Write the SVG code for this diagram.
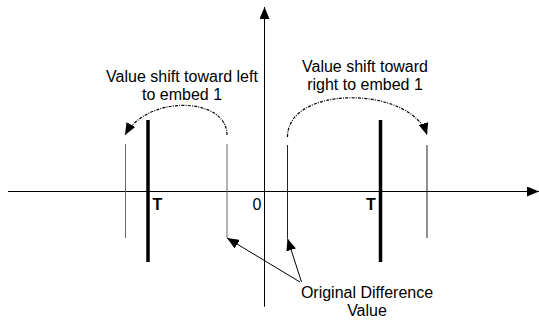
<svg xmlns="http://www.w3.org/2000/svg" width="539" height="320" viewBox="0 0 539 320">
<defs>
<marker id="ax" markerUnits="userSpaceOnUse" markerWidth="13" markerHeight="10" refX="12" refY="5" orient="auto"><path d="M0,0 L12,5 L0,10 z" fill="#000"/></marker>
<marker id="ah" markerUnits="userSpaceOnUse" markerWidth="13" markerHeight="10" refX="12" refY="5" orient="auto"><path d="M0,0 L12,5 L0,10 z" fill="#000"/></marker>
</defs>
<style>
text{font-family:"Liberation Sans",Arial,sans-serif;font-size:16px;fill:#000}
.b{font-weight:bold}
.thin{stroke-width:1;fill:none}
.thick{stroke:#000;stroke-width:3.5}
.dash{stroke:#000;stroke-width:1.2;fill:none;stroke-dasharray:3,1.2,1,1.2}
</style>
<g id="axes">
<line x1="8" y1="191.5" x2="539" y2="191.5" stroke="#000" stroke-width="1" marker-end="url(#ax)"/>
<line x1="264.5" y1="306.7" x2="264.5" y2="7" stroke="#000" stroke-width="1" marker-end="url(#ax)"/>
</g>
<g id="threshold-left">
<line class="thick" x1="148" y1="120" x2="148" y2="262"/>
<text class="b" x="152.5" y="210">T</text>
</g>
<g id="threshold-right">
<line class="thick" x1="380.5" y1="120" x2="380.5" y2="262"/>
<text class="b" x="366" y="210">T</text>
</g>
<g id="origin">
<text x="257" y="210" text-anchor="middle">0</text>
</g>
<g id="values-left">
<line class="thin" stroke="#666" x1="125.5" y1="144" x2="125.5" y2="238"/>
<line class="thin" stroke="#666" x1="227" y1="144" x2="227" y2="238"/>
</g>
<g id="values-right">
<line class="thin" stroke="#222" x1="287.5" y1="145" x2="287.5" y2="238"/>
<line class="thin" stroke="#222" x1="427" y1="145" x2="427" y2="238"/>
</g>
<g id="label-left">
<text x="182" y="82" text-anchor="middle">Value shift toward left</text>
<text x="182" y="100" text-anchor="middle">to embed 1</text>
</g>
<g id="label-right">
<text x="365" y="72" text-anchor="middle">Value shift toward</text>
<text x="365" y="90" text-anchor="middle">right to embed 1</text>
</g>
<g id="label-original">
<text x="367" y="298" text-anchor="middle">Original Difference</text>
<text x="367" y="316" text-anchor="middle">Value</text>
</g>
<g id="connectors">
<path class="dash" d="M227,135 C227,97 148,94 125,135" marker-end="url(#ah)"/>
<path class="dash" d="M287.5,137 C287.5,84 412,86 427,135" marker-end="url(#ah)"/>
<line x1="300" y1="282" x2="227" y2="238" stroke="#000" stroke-width="1" marker-end="url(#ah)"/>
<line x1="301.5" y1="282" x2="287.5" y2="238.5" stroke="#000" stroke-width="1" marker-end="url(#ah)"/>
</g>
</svg>
